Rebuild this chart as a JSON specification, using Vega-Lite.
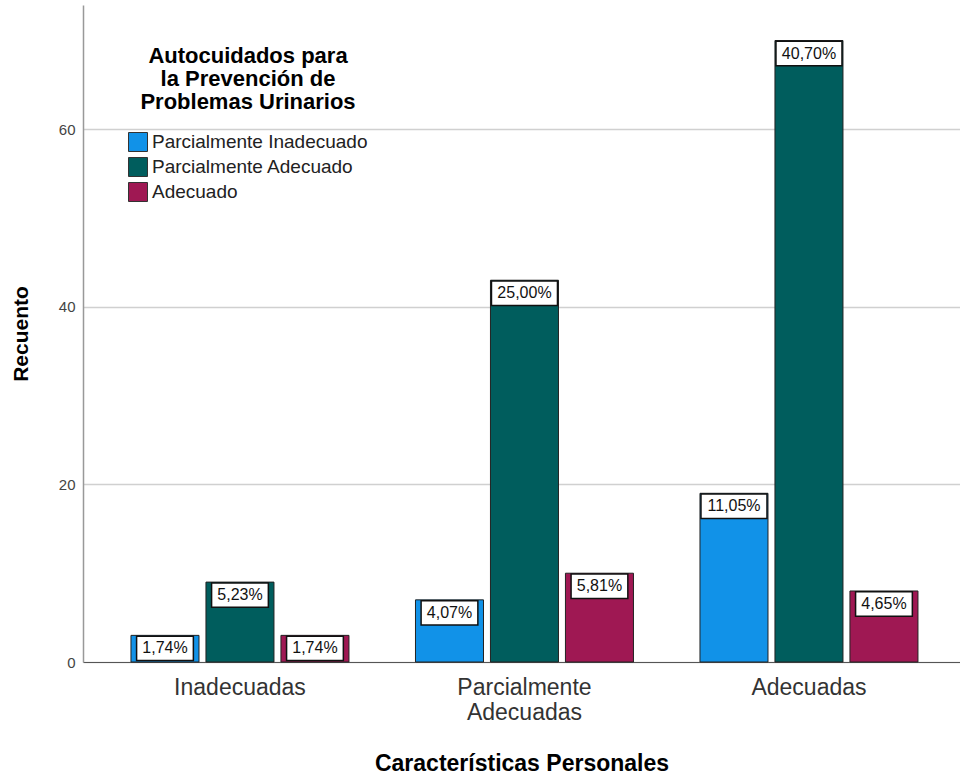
{
  "$schema": "https://vega.github.io/schema/vega-lite/v6.json",
  "autosize": {"type": "none"},
  "width": 877,
  "height": 657,
  "padding": {"left": 83, "top": 5, "right": 0, "bottom": 112},
  "background": "white",
  "config": {
    "view": {"stroke": null},
    "font": "Liberation Sans"
  },
  "data": {
    "values": [
      {"grupo": "Inadecuadas", "autocuidado": "Parcialmente Inadecuado", "recuento": 3, "pct": "1,74%"},
      {"grupo": "Inadecuadas", "autocuidado": "Parcialmente Adecuado", "recuento": 9, "pct": "5,23%"},
      {"grupo": "Inadecuadas", "autocuidado": "Adecuado", "recuento": 3, "pct": "1,74%"},
      {"grupo": "Parcialmente Adecuadas", "autocuidado": "Parcialmente Inadecuado", "recuento": 7, "pct": "4,07%"},
      {"grupo": "Parcialmente Adecuadas", "autocuidado": "Parcialmente Adecuado", "recuento": 43, "pct": "25,00%"},
      {"grupo": "Parcialmente Adecuadas", "autocuidado": "Adecuado", "recuento": 10, "pct": "5,81%"},
      {"grupo": "Adecuadas", "autocuidado": "Parcialmente Inadecuado", "recuento": 19, "pct": "11,05%"},
      {"grupo": "Adecuadas", "autocuidado": "Parcialmente Adecuado", "recuento": 70, "pct": "40,70%"},
      {"grupo": "Adecuadas", "autocuidado": "Adecuado", "recuento": 8, "pct": "4,65%"}
    ]
  },
  "encoding": {
    "x": {
      "field": "grupo",
      "type": "nominal",
      "sort": ["Inadecuadas", "Parcialmente Adecuadas", "Adecuadas"],
      "scale": {"paddingInner": 0.2074, "paddingOuter": 0.145, "align": 0.536},
      "axis": {
        "title": "Características Personales",
        "titleFont": "Liberation Sans",
        "titleFontSize": 23,
        "titleFontWeight": "bold",
        "titleColor": "#000000",
        "titlePadding": 28,
        "labelAngle": 0,
        "labelFontSize": 23,
        "labelColor": "#333333",
        "labelPadding": 14,
        "labelLineHeight": 25,
        "labelLimit": 400,
        "labelExpr": "datum.label == 'Parcialmente Adecuadas' ? ['Parcialmente', 'Adecuadas'] : datum.label",
        "ticks": false,
        "domainColor": "#555555",
        "domainWidth": 1.2,
        "grid": false
      }
    },
    "xOffset": {
      "field": "autocuidado",
      "type": "nominal",
      "sort": ["Parcialmente Inadecuado", "Parcialmente Adecuado", "Adecuado"],
      "scale": {"paddingInner": 0.093, "paddingOuter": 0.05}
    },
    "y": {
      "field": "recuento",
      "type": "quantitative",
      "scale": {"domain": [0, 74], "nice": false},
      "axis": {
        "title": "Recuento",
        "titleFont": "Liberation Sans",
        "titleFontSize": 21,
        "titleFontWeight": "bold",
        "titleColor": "#000000",
        "titlePadding": 27,
        "values": [0, 20, 40, 60],
        "labelFontSize": 15,
        "labelColor": "#444444",
        "labelPadding": 8,
        "ticks": false,
        "domainColor": "#999999",
        "domainWidth": 1.5,
        "gridColor": "#d0d0d0",
        "gridWidth": 1.5
      }
    }
  },
  "layer": [
    {
      "mark": {"type": "bar", "stroke": "#222222", "strokeWidth": 1},
      "encoding": {
        "color": {
          "field": "autocuidado",
          "type": "nominal",
          "scale": {
            "domain": ["Parcialmente Inadecuado", "Parcialmente Adecuado", "Adecuado"],
            "range": ["#1192E8", "#005D5D", "#9F1853"]
          },
          "legend": {
            "title": ["Autocuidados para", "la Prevención de", "Problemas Urinarios"],
            "orient": "none",
            "legendX": 45,
            "legendY": 41,
            "titleFont": "Liberation Sans",
            "titleFontSize": 22,
            "titleFontWeight": "bold",
            "titleColor": "#000000",
            "titleLineHeight": 23,
            "titleLimit": 600,
            "titleAnchor": "middle",
            "titleAlign": "center",
            "titlePadding": 18,
            "labelFont": "Liberation Sans",
            "labelFontSize": 19,
            "labelColor": "#222222",
            "labelLimit": 600,
            "labelOffset": 4,
            "symbolType": "square",
            "symbolSize": 361,
            "symbolStrokeColor": "#333333",
            "symbolStrokeWidth": 1,
            "symbolOpacity": 1,
            "rowPadding": 1
          }
        }
      }
    },
    {
      "mark": {
        "type": "point",
        "size": 4356,
        "filled": true,
        "fill": "white",
        "stroke": "#111111",
        "strokeWidth": 1.5,
        "opacity": 1,
        "yOffset": 13
      },
      "encoding": {
        "shape": {
          "condition": {"test": "length(datum.pct) > 5", "value": "M-1,-0.37L1,-0.37L1,0.37L-1,0.37Z"},
          "value": "M-0.86,-0.37L0.86,-0.37L0.86,0.37L-0.86,0.37Z"
        }
      }
    },
    {
      "mark": {
        "type": "text",
        "fontSize": 16,
        "font": "Liberation Sans",
        "color": "#111111",
        "baseline": "middle",
        "align": "center",
        "yOffset": 13
      },
      "encoding": {"text": {"field": "pct", "type": "nominal"}}
    }
  ]
}
